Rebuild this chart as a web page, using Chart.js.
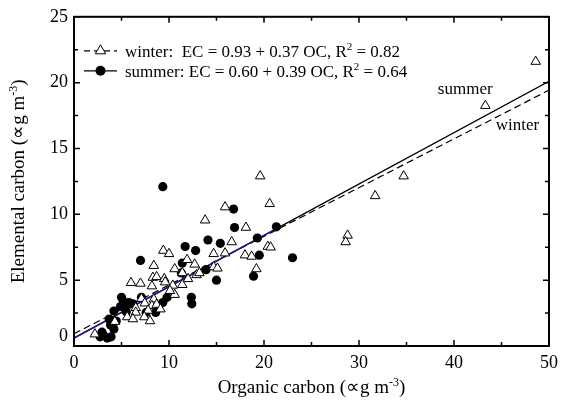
<!DOCTYPE html>
<html>
<head>
<meta charset="utf-8">
<script src="https://cdn.jsdelivr.net/npm/chart.js@4"></script>
<style>
  html, body { margin: 0; padding: 0; background: #fff; }
  #wrap { width: 564px; height: 401px; }
</style>
</head>
<body>
<div id="wrap"><canvas id="chart"></canvas></div>
<script>
// data
const winterOC = [48.6, 43.3, 34.7, 31.7, 28.8, 28.6, 19.6, 20.6, 15.9, 13.8, 18.1, 16.6, 20.4, 20.7,
  15.9, 14.7, 18.0, 18.7, 19.2, 14.7, 15.1, 12.7, 11.9, 9.4, 10.0, 10.6, 8.4, 8.3, 8.7, 9.5, 9.6,
  8.2, 6.0, 7.0, 10.4, 11.4, 12.0, 11.4, 12.9, 13.2, 10.6, 10.1, 7.1, 7.45, 8.4, 8.2, 8.7, 9.1,
  7.8, 6.5, 6.5, 5.6, 6.2, 7.4, 8.0, 4.3, 2.2];
const winterEC = [21.6, 18.25, 12.9, 11.4, 8.4, 7.9, 12.9, 10.8, 10.55, 9.55, 9.0, 7.9, 7.55, 7.5,
  7.05, 7.0, 6.9, 6.8, 5.85, 6.0, 5.9, 6.2, 6.55, 7.25, 7.0, 5.85, 6.1, 5.2, 5.25, 5.1, 4.85,
  4.55, 4.8, 4.75, 4.6, 4.65, 5.1, 5.55, 5.4, 5.55, 3.9, 4.2, 3.6, 3.25, 3.55, 3.05, 3.15, 2.8,
  2.7, 2.9, 2.55, 2.2, 2.05, 2.2, 1.9, 1.85, 0.9];

const summerOC = [9.35, 16.8, 16.9, 21.3, 14.1, 15.4, 11.7, 12.8, 19.3, 19.5, 23.0, 7.0, 18.9, 15.0,
  13.9, 11.4, 11.3, 12.35, 12.4, 9.35, 9.8, 7.1, 5.0, 5.2, 5.5, 5.8, 6.2, 4.9, 5.3, 5.5, 4.2,
  3.7, 4.45, 3.85, 4.2, 7.6, 8.6, 2.95, 3.1, 3.5, 3.9, 2.75];
const summerEC = [12.1, 10.4, 9.0, 9.05, 8.05, 7.8, 7.55, 7.25, 8.2, 6.9, 6.7, 6.5, 5.3, 5.0,
  5.8, 6.3, 5.55, 3.7, 3.2, 3.3, 3.7, 3.7, 3.7, 3.4, 3.2, 3.3, 3.2, 3.0, 2.9, 2.6, 2.65,
  2.05, 1.9, 1.6, 1.3, 2.55, 2.55, 1.05, 0.8, 0.6, 0.7, 0.7];

// regression lines from the legend equations
const fitOC = [0, 50];
const winterFitEC = [0.93, 19.43];
const summerFitEC = [0.60, 20.10];
const summerBlueOC = [0, 21];
const summerBlueEC = [0.60, 8.79];

const xMajor = [0, 10, 20, 30, 40, 50];
const yMajor = [0, 5, 10, 15, 20, 25];

const legendRows = [
  { name: 'winter:  EC = 0.93 + 0.37 OC, R', r2: ' = 0.82', dash: [6, 4], marker: 'triangle' },
  { name: 'summer: EC = 0.60 + 0.39 OC, R', r2: ' = 0.64', dash: [], marker: 'circle' }
];

const FONT = '"Liberation Serif", "Times New Roman", serif';
const pts = (xs, ys) => xs.map((x, i) => ({ x: x, y: ys[i] }));

function drawSup(ctx, x, y, base, sup, tail, size) {
  ctx.font = size + 'px ' + FONT;
  ctx.fillText(base, x, y);
  let w = ctx.measureText(base).width;
  ctx.font = Math.round(size * 0.62) + 'px ' + FONT;
  ctx.fillText(sup, x + w, y - size * 0.38);
  w += ctx.measureText(sup).width;
  ctx.font = size + 'px ' + FONT;
  ctx.fillText(tail, x + w, y);
  return w + ctx.measureText(tail).width;
}

function supWidth(ctx, base, sup, tail, size) {
  ctx.font = size + 'px ' + FONT;
  let w = ctx.measureText(base).width + ctx.measureText(tail).width;
  ctx.font = Math.round(size * 0.62) + 'px ' + FONT;
  return w + ctx.measureText(sup).width;
}

const framePlugin = {
  id: 'frame',
  afterDatasetsDraw(chart) {
    const { ctx, chartArea: a, scales: { x, y } } = chart;
    ctx.save();
    ctx.strokeStyle = '#000';
    // inward ticks on all four sides
    ctx.lineWidth = 1.5;
    ctx.beginPath();
    for (let v = 0; v <= 50; v += 5) {
      const px = x.getPixelForValue(v);
      const len = v % 10 === 0 ? 6 : 4;
      ctx.moveTo(px, a.bottom); ctx.lineTo(px, a.bottom - len);
      ctx.moveTo(px, a.top); ctx.lineTo(px, a.top + len);
    }
    for (let v = 0; v <= 25; v += 2.5) {
      const py = y.getPixelForValue(v);
      const len = v % 5 === 0 ? 6 : 4;
      ctx.moveTo(a.left, py); ctx.lineTo(a.left + len, py);
      ctx.moveTo(a.right, py); ctx.lineTo(a.right - len, py);
    }
    ctx.stroke();
    ctx.lineWidth = 2;
    ctx.strokeRect(a.left, a.top, a.right - a.left, a.bottom - a.top);

    ctx.fillStyle = '#000';
    // y "0" label sits a little above the axis
    ctx.font = '18px ' + FONT;
    ctx.textAlign = 'right';
    ctx.textBaseline = 'middle';
    ctx.fillText('0', a.left - 6, y.getPixelForValue(0) - 10);

    // legend
    ctx.textAlign = 'left';
    ctx.textBaseline = 'alphabetic';
    legendRows.forEach((r, i) => {
      const cy = a.top + 34 + i * 20;
      const x0 = a.left + 10, x1 = a.left + 43;
      ctx.lineWidth = 1.3;
      ctx.setLineDash(r.dash);
      ctx.beginPath(); ctx.moveTo(x0, cy); ctx.lineTo(x1, cy); ctx.stroke();
      ctx.setLineDash([]);
      const mx = (x0 + x1) / 2;
      if (r.marker === 'triangle') {
        ctx.fillStyle = '#fff';
        ctx.lineWidth = 1;
        ctx.beginPath();
        ctx.moveTo(mx, cy - 6); ctx.lineTo(mx + 5.2, cy + 3); ctx.lineTo(mx - 5.2, cy + 3); ctx.closePath();
        ctx.fill(); ctx.stroke();
      } else {
        ctx.fillStyle = '#000';
        ctx.beginPath(); ctx.arc(mx, cy, 5, 0, Math.PI * 2); ctx.fill();
      }
      ctx.fillStyle = '#000';
      drawSup(ctx, x1 + 8, cy + 6, r.name, '2', r.r2, 17);
    });

    // labels at the line ends
    ctx.font = '17px ' + FONT;
    ctx.fillText('summer', x.getPixelForValue(38.3), y.getPixelForValue(19.1));
    ctx.fillText('winter', x.getPixelForValue(44.4), y.getPixelForValue(16.4));

    // axis titles
    const tw = supWidth(ctx, 'Organic carbon (\u221Dg m', '-3', ')', 19);
    drawSup(ctx, (a.left + a.right) / 2 - tw / 2, a.bottom + 47, 'Organic carbon (\u221Dg m', '-3', ')', 19);
    ctx.save();
    ctx.translate(24, (a.top + a.bottom) / 2);
    ctx.rotate(-Math.PI / 2);
    const th = supWidth(ctx, 'Elemental carbon (\u221Dg m', '-3', ')', 19);
    drawSup(ctx, -th / 2, 0, 'Elemental carbon (\u221Dg m', '-3', ')', 19);
    ctx.restore();
    ctx.restore();
  }
};

new Chart(document.getElementById('chart'), {
  type: 'scatter',
  data: {
    datasets: [
      {
        label: 'winter',
        data: pts(winterOC, winterEC),
        pointStyle: 'triangle',
        pointRadius: 5.5,
        backgroundColor: '#fff',
        borderColor: '#000',
        borderWidth: 1,
        order: 0
      },
      {
        label: 'summer',
        data: pts(summerOC, summerEC),
        pointStyle: 'circle',
        pointRadius: 4.6,
        backgroundColor: '#000',
        borderColor: '#000',
        borderWidth: 0,
        order: 1
      },
      {
        type: 'line',
        label: 'summer fit (data range)',
        data: pts(summerBlueOC, summerBlueEC),
        borderColor: '#1c1c9c',
        borderWidth: 1.4,
        pointRadius: 0,
        order: 2
      },
      {
        type: 'line',
        label: 'winter fit',
        data: pts(fitOC, winterFitEC),
        borderColor: '#000',
        borderWidth: 1.2,
        borderDash: [7, 4],
        pointRadius: 0,
        order: 3
      },
      {
        type: 'line',
        label: 'summer fit',
        data: pts(fitOC, summerFitEC),
        borderColor: '#000',
        borderWidth: 1.4,
        pointRadius: 0,
        order: 4
      }
    ]
  },
  options: {
    responsive: true,
    maintainAspectRatio: false,
    animation: false,
    layout: { autoPadding: false, padding: { top: 15, right: 8, left: 0, bottom: 0 } },
    plugins: { legend: { display: false }, tooltip: { enabled: false } },
    scales: {
      x: {
        type: 'linear', min: 0, max: 50,
        grid: { display: false, drawTicks: false },
        border: { display: false },
        afterFit: s => { s.height = 55; },
        afterBuildTicks: s => { s.ticks = xMajor.map(v => ({ value: v })); },
        ticks: { padding: 6, color: '#000', font: { family: FONT, size: 18 } }
      },
      y: {
        type: 'linear', min: 0, max: 25,
        grid: { display: false, drawTicks: false },
        border: { display: false },
        afterFit: s => { s.width = 74; },
        afterBuildTicks: s => { s.ticks = yMajor.map(v => ({ value: v })); },
        ticks: {
          padding: 6, color: '#000', font: { family: FONT, size: 18 },
          callback: v => (v === 0 ? '' : v)
        }
      }
    }
  },
  plugins: [framePlugin]
});
</script>
</body>
</html>
